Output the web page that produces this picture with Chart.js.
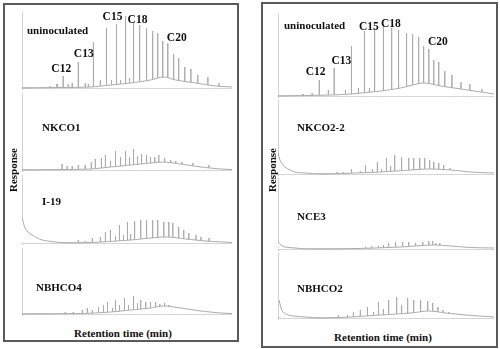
<!DOCTYPE html>
<html>
<head>
<meta charset="utf-8">
<script src="https://cdn.jsdelivr.net/npm/chart.js@4.4.1/dist/chart.umd.min.js"></script>
<style>
  body { margin: 0; background: #fff; }
  #page { position: relative; width: 500px; height: 349px; overflow: hidden; background: #fff; }
  .panel { position: absolute; border: 2px solid #5a5a5a; box-sizing: border-box; }
  .trace { position: absolute; }
  .txt { position: absolute; font-family: "Liberation Serif", "Times New Roman", serif; color: #111; white-space: nowrap; line-height: 12px; }
  .name { font-weight: bold; font-size: 11px; }
  .ylab { font-weight: bold; font-size: 11px; transform: translate(-50%, -50%) rotate(-90deg); }
  .xlab { font-weight: bold; font-size: 11px; transform: translateX(-50%); }
</style>
</head>
<body>
<div id="page">
  <div class="panel" style="left:3px;top:3px;width:236px;height:339px"></div>
  <div class="panel" style="left:261px;top:2px;width:237px;height:346px"></div>

  <div class="trace" style="left:22px;top:12px"><canvas id="l1" width="210" height="78"></canvas></div>
  <div class="trace" style="left:22px;top:93px"><canvas id="l2" width="210" height="79"></canvas></div>
  <div class="trace" style="left:22px;top:175px"><canvas id="l3" width="210" height="70"></canvas></div>
  <div class="trace" style="left:22px;top:248px"><canvas id="l4" width="210" height="68"></canvas></div>

  <div class="trace" style="left:278px;top:13px"><canvas id="r1" width="216" height="85"></canvas></div>
  <div class="trace" style="left:278px;top:100px"><canvas id="r2" width="216" height="76"></canvas></div>
  <div class="trace" style="left:278px;top:178px"><canvas id="r3" width="216" height="73"></canvas></div>
  <div class="trace" style="left:278px;top:253px"><canvas id="r4" width="216" height="67"></canvas></div>

  <div class="txt name" style="left:27px;top:24px">uninoculated</div>
  <div class="txt name" style="left:42px;top:121px">NKCO1</div>
  <div class="txt name" style="left:42px;top:195px">I-19</div>
  <div class="txt name" style="left:36px;top:281px">NBHCO4</div>

  <div class="txt name" style="left:284px;top:19px">uninoculated</div>
  <div class="txt name" style="left:297px;top:121px">NKCO2-2</div>
  <div class="txt name" style="left:297px;top:210px">NCE3</div>
  <div class="txt name" style="left:297px;top:282px">NBHCO2</div>

  <div class="txt ylab" style="left:13px;top:170px">Response</div>
  <div class="txt ylab" style="left:272px;top:170px">Response</div>
  <div class="txt xlab" style="left:123px;top:327px">Retention time (min)</div>
  <div class="txt xlab" style="left:383px;top:331px">Retention time (min)</div>
</div>

<script>
// ---- left panel ----
// peak retention (0-100 of run) and peak height (response above baseline)
const uninocX = [13.4, 16.7, 19.6, 22.0, 23.9, 26.8, 30.1, 31.6, 34.0, 37.3, 40.2, 42.6, 45.0, 46.9, 49.3, 51.2, 53.1, 56.0, 59.3, 62.2, 64.6, 67.0, 69.4, 72.2, 74.6, 77.5, 80.4, 83.7, 88.5, 93.8];
const uninocH = [2, 4, 12, 4, 5, 26, 5, 4, 46, 8, 60, 8, 64, 8, 72, 10, 66, 63, 60, 57, 55, 47, 45, 34, 30, 21, 19, 13, 11, 5];
const uninocHump = [[0, 0], [18.2, 0.5], [32.5, 1], [42.1, 3], [51.7, 5], [61.2, 8], [67.5, 11], [73.2, 8], [82.8, 5], [92.3, 2], [100, 1]];

const nkco1X = [19.1, 21.5, 23.9, 26.8, 30.1, 33.0, 34.9, 37.8, 39.7, 42.1, 44.5, 46.9, 49.3, 51.2, 53.1, 55.0, 56.9, 59.3, 61.2, 63.2, 65.1, 67.9, 70.8, 73.2, 76.1, 81.3, 89.0];
const nkco1H = [6, 4, 4, 5, 5, 8, 11, 12, 15, 9, 19, 13, 19, 13, 21, 14, 16, 15, 13, 13, 15, 12, 10, 9, 8, 7, 5];
const nkco1Hump = [[0, 0], [32.5, 1], [42.1, 3], [51.7, 5], [61.2, 7], [67.5, 8], [75.6, 6], [85.2, 3], [94.7, 1], [100, 0.5]];

const i19X = [26.8, 30.1, 33.5, 37.3, 39.7, 42.1, 44.5, 46.4, 48.3, 50.2, 51.7, 53.6, 56.5, 59.3, 62.2, 64.6, 67.5, 69.9, 71.8, 74.6, 77.0, 79.4, 82.8, 85.2, 89.0];
const i19H = [3, 2, 5, 6, 11, 13, 7, 18, 8, 21, 9, 22, 23, 23, 23, 23, 21, 21, 20, 16, 13, 10, 8, 6, 5];
const i19Profile = [[0, 26], [1.4, 15], [2.9, 11], [4.8, 8], [7.2, 5], [9.6, 3], [15.8, 1], [23.0, 0], [37.3, 1], [51.7, 3], [61.2, 5], [69.4, 6], [78.0, 4], [87.6, 2], [100, 0.5]];

const nbhco4X = [16.3, 20.6, 24.4, 28.7, 31.1, 33.5, 36.4, 38.8, 40.7, 43.1, 44.5, 46.4, 48.8, 50.7, 53.1, 55.0, 56.5, 58.9, 61.2, 63.6, 65.6, 67.9, 69.9, 73.2, 77.0, 81.3, 90.0];
const nbhco4H = [1, 2, 2, 4, 6, 4, 7, 9, 12, 6, 14, 9, 16, 9, 18, 11, 14, 12, 12, 12, 10, 11, 9, 7, 4, 3, 2];
const nbhco4Hump = [[0, 0], [27.8, 0.5], [42.1, 2], [51.7, 4], [61.2, 6], [67.5, 8], [75.6, 6], [85.2, 3], [94.7, 1], [100, 0.5]];

// ---- right panel ----
const rUninocX = [11.6, 15.8, 19.1, 23.3, 26.0, 31.2, 34.0, 37.2, 40.0, 42.3, 44.7, 48.8, 52.6, 55.8, 59.5, 62.3, 65.1, 67.4, 69.8, 72.1, 74.4, 77.2, 80.5, 84.7, 88.8, 94.4];
const rUninocH = [2, 3, 16, 6, 28, 6, 50, 8, 65, 8, 68, 72, 68, 66, 63, 62, 59, 50, 47, 36, 34, 25, 21, 14, 12, 7];
const rUninocHump = [[0, 0], [24.2, 1], [33.5, 2], [47.4, 5], [56.7, 8], [67.4, 13], [75.3, 10], [84.7, 7], [94.0, 4], [100, 2]];

const nkco22X = [27.4, 30.2, 34.0, 38.1, 40.5, 43.7, 46.0, 47.9, 50.2, 52.1, 54.0, 57.2, 60.5, 62.8, 65.6, 67.9, 70.2, 72.1, 74.4, 76.7, 79.5, 82.8, 86.5, 90.7];
const nkco22H = [2, 2, 5, 3, 9, 5, 12, 5, 16, 8, 19, 17, 16, 16, 16, 16, 14, 12, 11, 9, 6, 4, 2, 2];
const nkco22Profile = [[0, 22], [0.9, 14], [3.3, 7], [7.9, 2], [12.6, 1], [19.5, 0], [28.8, 0.5], [47.4, 2], [61.4, 4], [69.8, 5], [80.0, 4], [89.3, 2], [100, 1]];

const nce3X = [40.5, 43.3, 46.5, 48.8, 51.2, 54.4, 57.7, 60.5, 63.7, 67.0, 69.8, 71.6, 73.0, 74.9, 77.7, 80.9, 84.7];
const nce3H = [2, 3, 3, 4, 6, 7, 7, 7, 6, 7, 8, 8, 6, 6, 4, 3, 2];
const nce3Profile = [[0, 7], [1.4, 4], [3.3, 2], [7.9, 1], [14.9, 0], [33.5, 0.3], [56.7, 2], [71.6, 4], [80.0, 3], [89.3, 1.5], [100, 1]];

const nbhco2X = [27.9, 32.1, 34.9, 38.1, 41.4, 44.2, 46.5, 48.8, 51.2, 54.9, 57.2, 60.0, 62.8, 66.0, 69.3, 71.6, 74.0, 76.3, 79.1, 83.3];
const nbhco2H = [3, 3, 6, 8, 11, 6, 16, 9, 18, 21, 13, 20, 18, 18, 17, 15, 11, 8, 6, 4];
const nbhco2Profile = [[0.5, 18], [1.4, 10], [2.3, 6], [4.7, 3], [7.0, 2], [12.6, 1], [19.5, 0], [33.5, 1], [47.4, 3], [61.4, 5], [69.8, 7], [77.7, 5], [87.0, 3], [100, 1]];

// carbon number labels over the uninoculated traces
const cLabels = ['C12', 'C13', 'C15', 'C18', 'C20'];
const leftLabelX = [18.7, 29.4, 43.1, 55.0, 73.7];
const leftLabelY = [19, 34, 71, 68, 50];
const rightLabelX = [17.4, 29.3, 42.1, 52.3, 74.0];
const rightLabelY = [24, 35, 69, 72, 54];

const lineColor = '#ababab';
const axisColor = '#d2d2d2';

const peakLabelPlugin = {
    id: 'peakLabels',
    afterDatasetsDraw(chart, args, opts) {
        if (!opts.texts) return;
        const ctx = chart.ctx;
        ctx.save();
        ctx.font = 'bold 11.5px "Liberation Serif", serif';
        ctx.fillStyle = '#111';
        ctx.textAlign = 'center';
        ctx.textBaseline = 'middle';
        opts.texts.forEach((t, i) => {
            ctx.fillText(t, chart.scales.x.getPixelForValue(opts.xs[i]), chart.scales.y.getPixelForValue(opts.ys[i]));
        });
        ctx.restore();
    }
};

function spikes(xs, hs) {
    // each peak is a thin stick standing on the baseline
    const pts = [{x: 0, y: 0}];
    xs.forEach((x, i) => {
        pts.push({x: x - 0.04, y: 0}, {x: x, y: hs[i]}, {x: x + 0.04, y: 0});
    });
    pts.push({x: 100, y: 0});
    return pts;
}

function make_trace(id, xs, hs, profile, labels) {
    const canvas = document.getElementById(id);
    const yMax = canvas.height - 2;
    return new Chart(canvas, {
        type: 'line',
        data: {
            datasets: [
                {
                    // baseline hump / solvent tail, white underneath so sticks start on it
                    data: profile.map(p => ({x: p[0], y: p[1]})),
                    borderColor: lineColor,
                    borderWidth: 1,
                    backgroundColor: '#ffffff',
                    fill: 'origin',
                    pointRadius: 0,
                    tension: 0.3,
                    order: 0
                },
                {
                    data: spikes(xs, hs),
                    borderColor: lineColor,
                    borderWidth: 1,
                    pointRadius: 0,
                    tension: 0,
                    fill: false,
                    order: 1
                }
            ]
        },
        options: {
            responsive: false,
            animation: false,
            events: [],
            layout: { padding: 0 },
            plugins: {
                legend: { display: false },
                tooltip: { enabled: false },
                peakLabels: labels || {}
            },
            scales: {
                x: {
                    type: 'linear', min: 0, max: 100, z: 1,
                    ticks: { display: false },
                    grid: { display: false, drawTicks: false },
                    border: { display: true, color: axisColor, width: 1 }
                },
                y: {
                    type: 'linear', min: -2, max: yMax, z: 1,
                    ticks: { display: false },
                    grid: { display: false, drawTicks: false },
                    border: { display: true, color: axisColor, width: 1 }
                }
            }
        },
        plugins: [peakLabelPlugin]
    });
}

make_trace('l1', uninocX, uninocH, uninocHump, {texts: cLabels, xs: leftLabelX, ys: leftLabelY});
make_trace('l2', nkco1X, nkco1H, nkco1Hump);
make_trace('l3', i19X, i19H, i19Profile);
make_trace('l4', nbhco4X, nbhco4H, nbhco4Hump);

make_trace('r1', rUninocX, rUninocH, rUninocHump, {texts: cLabels, xs: rightLabelX, ys: rightLabelY});
make_trace('r2', nkco22X, nkco22H, nkco22Profile);
make_trace('r3', nce3X, nce3H, nce3Profile);
make_trace('r4', nbhco2X, nbhco2H, nbhco2Profile);
</script>
</body>
</html>
